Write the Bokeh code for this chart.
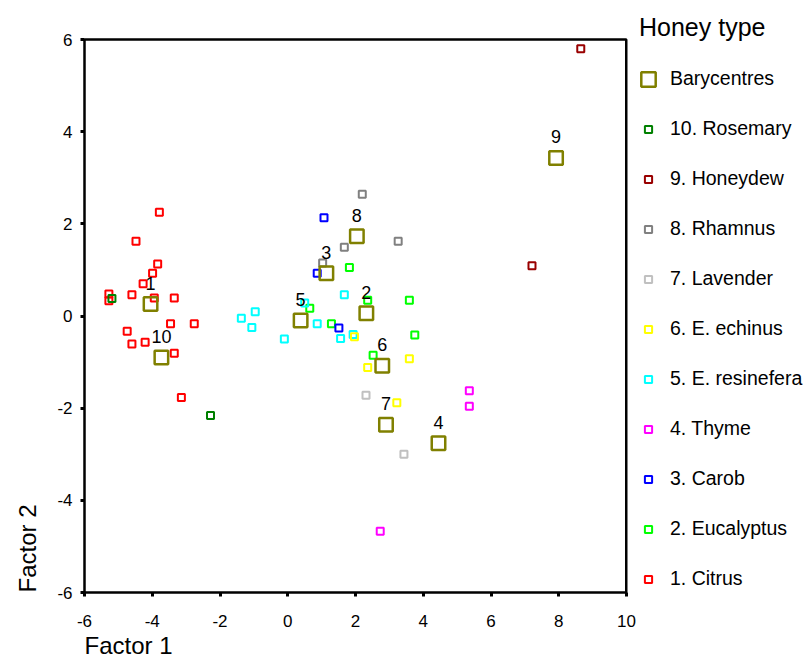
import math
from bokeh.plotting import figure
from bokeh.models import Legend, LegendItem, FixedTicker, Title, LinearAxis, Span
from bokeh.embed import file_html
from bokeh.resources import INLINE
from bokeh.core.properties import value

# ---------------- data ----------------
citrus_x = [-3.79, -4.48, -3.84, -3.99, -4.27, -5.28, -5.28, -4.60, -3.94, -3.35, -3.46, -2.76, -4.74, -4.60, -4.21, -3.35, -3.14]
citrus_y = [2.25, 1.62, 1.13, 0.93, 0.70, 0.48, 0.33, 0.46, 0.39, 0.39, -0.17, -0.17, -0.33, -0.61, -0.57, -0.81, -1.77]
eucalyptus_x = [0.65, 1.82, 2.36, 3.59, 1.29, 3.75, 2.52]
eucalyptus_y = [0.17, 1.05, 0.34, 0.34, -0.17, -0.41, -0.85]
carob_x = [1.07, 0.87, 1.51]
carob_y = [2.13, 0.93, -0.26]
thyme_x = [5.36, 5.36, 2.73]
thyme_y = [-1.62, -1.96, -4.67]
resinefera_x = [-1.37, -0.96, -1.06, -0.10, 0.50, 0.87, 1.67, 1.56, 1.93]
resinefera_y = [-0.05, 0.09, -0.25, -0.50, 0.28, -0.17, 0.46, -0.49, -0.40]
echinus_x = [1.97, 3.59, 2.36, 3.22]
echinus_y = [-0.45, -0.93, -1.12, -1.88]
lavender_x = [2.31, 3.43]
lavender_y = [-1.72, -3.00]
rhamnus_x = [2.20, 1.67, 3.26, 1.03]
rhamnus_y = [2.64, 1.49, 1.62, 1.15]
honeydew_x = [8.65, 7.21]
honeydew_y = [5.80, 1.09]
rosemary_x = [-5.19, -2.28]
rosemary_y = [0.38, -2.16]

type_names = ["1. Citrus", "2. Eucalyptus", "3. Carob", "4. Thyme", "5. E. resinefera",
              "6. E. echinus", "7. Lavender", "8. Rhamnus", "9. Honeydew", "10. Rosemary"]

bary_labels = ["1", "2", "3", "4", "5", "6", "7", "8", "9", "10"]
bary_x = [-4.05, 2.32, 1.14, 4.45, 0.38, 2.79, 2.90, 2.04, 7.92, -3.73]
bary_y = [0.26, 0.06, 0.93, -2.76, -0.10, -1.08, -2.36, 1.73, 3.43, -0.90]

x_ticks = [-6, -4, -2, 0, 2, 4, 6, 8, 10]
y_ticks = [-6, -4, -2, 0, 2, 4, 6]

# ---------------- style ----------------
FONT = "Liberation Sans"
type_colors = ["#FF0000", "#00FF00", "#0000FF", "#FF00FF", "#00FFFF",
               "#FFFF00", "#C0C0C0", "#808080", "#990000", "#008000"]
BARY_COLOR = "#808000"

series = [(citrus_x, citrus_y), (eucalyptus_x, eucalyptus_y), (carob_x, carob_y),
          (thyme_x, thyme_y), (resinefera_x, resinefera_y), (echinus_x, echinus_y),
          (lavender_x, lavender_y), (rhamnus_x, rhamnus_y), (honeydew_x, honeydew_y),
          (rosemary_x, rosemary_y)]

p = figure(frame_width=542, frame_height=553, x_range=(-6, 10), y_range=(-6, 6),
           output_backend="svg", toolbar_location=None,
           min_border_left=84, min_border_right=180, min_border_top=39, min_border_bottom=66)
p.grid.visible = False
p.outline_line_color = "black"
p.outline_line_width = 2
p.background_fill_color = "white"
p.border_fill_color = "white"

p.xaxis.ticker = FixedTicker(ticks=x_ticks)
p.yaxis.ticker = FixedTicker(ticks=y_ticks)
p.xaxis.major_label_overrides = {t: str(t) for t in x_ticks}
p.yaxis.major_label_overrides = {t: str(t) for t in y_ticks}
for ax in (p.xaxis, p.yaxis):
    ax.axis_line_width = 2
    ax.axis_line_color = "black"
    ax.major_tick_line_width = 3
    ax.major_tick_line_color = "black"
    ax.major_tick_in = 0
    ax.major_tick_out = 4
    ax.minor_tick_line_color = None
    ax.major_label_text_font = FONT
    ax.major_label_text_font_size = "17px"
    ax.major_label_text_color = "black"
p.xaxis.major_label_standoff = 18
p.yaxis.major_label_standoff = 8

# plain top edge of the frame, and right edge
top_edge = LinearAxis(ticker=FixedTicker(ticks=[]), axis_line_width=2, axis_line_color="black",
                      major_tick_out=0, major_tick_in=0, minor_tick_out=0, minor_tick_in=0,
                      major_label_standoff=0, major_label_text_font_size="0px")
p.add_layout(top_edge, "above")
p.add_layout(Span(location=10, dimension="height", line_color="black", line_width=3))

renderers = []
for (xs, ys), col in zip(series, type_colors):
    r = p.scatter(xs, ys, marker="square", size=7, line_color=col, fill_color=None, line_width=2)
    renderers.append(r)

bary_r = p.rect(bary_x, bary_y, width=13.5, height=13.5, width_units="screen",
                height_units="screen", line_color=BARY_COLOR, fill_color=None, line_width=2.5)
p.text(bary_x, bary_y, text=bary_labels, text_font=value(FONT), text_font_size="18px",
       text_align="center", text_baseline="alphabetic", y_offset=-21, text_color="black")

# axis titles
p.add_layout(Title(text="Factor 1", align="left", vertical_align="top", text_font=FONT,
                   text_font_size="24px", text_font_style="normal", text_color="black",
                   standoff=4), "below")
p.add_layout(Title(text="Factor 2", align="left", vertical_align="top", text_font=FONT,
                   text_font_size="24px", text_font_style="normal", text_color="black",
                   standoff=24), "left")

# legend
items = [LegendItem(label="Barycentres", renderers=[bary_r])]
items += [LegendItem(label=type_names[i], renderers=[renderers[i]]) for i in range(9, -1, -1)]
leg = Legend(items=items, location=(13, 2), title="Honey type",
             title_text_font=FONT, title_text_font_size="25px", title_text_font_style="normal",
             title_text_color="black", title_standoff=25,
             label_text_font=FONT, label_text_font_size="19.5px", label_text_color="black",
             glyph_width=18, glyph_height=18, label_height=22, spacing=27, label_standoff=13,
             padding=0, margin=0, border_line_color=None, background_fill_alpha=0)
p.add_layout(leg, "right")

open("out.html", "w").write(file_html(p, INLINE))
